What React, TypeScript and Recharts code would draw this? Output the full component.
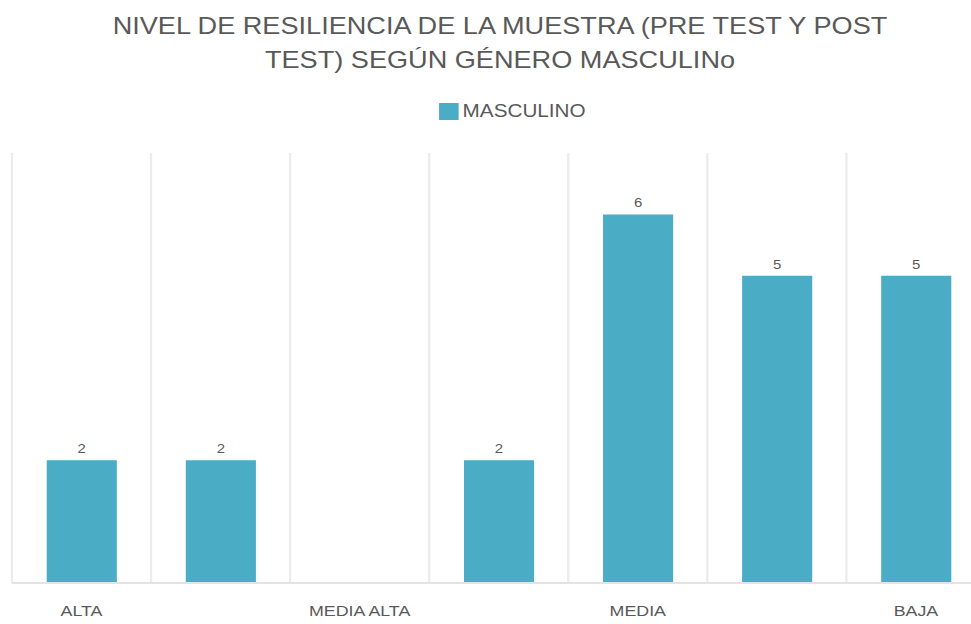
import { BarChart, Bar, XAxis, YAxis, CartesianGrid, Legend, LabelList } from 'recharts'

// niveles (solo se rotulan uno sí, uno no, como en el original)
const categories = ['ALTA', '', 'MEDIA ALTA', '', 'MEDIA', '', 'BAJA']
const masculino = [2, 2, 0, 2, 6, 5, 5]
const yTicks = [0, 1, 2, 3, 4, 5, 6, 7]
const gridTicks = [0, 1, 2, 3, 4, 5, 6, 7]

const data = categories.map((c, i) => ({ nivel: c, masculino: masculino[i], pos: i + 0.5 }))

const TEXT = '#595959'
const FONT = '"Liberation Sans", Arial, sans-serif'
const STRETCH = 1.1494

function LegendBox() {
  return (
    <div style={{ display: 'flex', justifyContent: 'center', alignItems: 'center', height: 17 }}>
      <span style={{ display: 'inline-block', width: 16.5, height: 17, background: '#4BACC6' }} />
      <span style={{ marginLeft: 3.5, fontSize: 18, color: TEXT, fontFamily: FONT, lineHeight: '17px' }}>MASCULINO</span>
    </div>
  )
}

export default function App() {
  return (
    <div style={{ position: 'absolute', left: 0, top: 0, width: 971, height: 624, overflow: 'hidden', background: '#fff' }}>
      <div style={{ position: 'relative', width: 870, height: 624, transform: `scaleX(${STRETCH})`, transformOrigin: '0 0' }}>
        <div style={{ position: 'absolute', top: 9, left: 0, width: 870, textAlign: 'center', fontFamily: FONT, fontSize: 23.6, lineHeight: '34px', color: TEXT, whiteSpace: 'nowrap' }}>
          NIVEL DE RESILIENCIA DE LA MUESTRA (PRE TEST Y POST<br />TEST) SEGÚN GÉNERO MASCULINo
        </div>
        <BarChart width={870} height={624} data={data} barCategoryGap="25%"
          margin={{ top: 153, right: 12.6, left: 10.4, bottom: 0 }} style={{ fontFamily: FONT }}>
          <CartesianGrid xAxisId="grid" horizontal={false} stroke="#ececec" strokeWidth={2} />
          <XAxis xAxisId="grid" dataKey="pos" type="number" domain={[0, 7]} ticks={gridTicks} allowDataOverflow hide />
          <XAxis dataKey="nivel" interval={0} tickLine={false} tickSize={0} tickMargin={22} height={41}
            axisLine={{ stroke: '#e3e3e3', strokeWidth: 2 }} tick={{ fill: TEXT, fontSize: 15.5 }} />
          <YAxis hide domain={[0, 7]} ticks={yTicks} />
          <Legend verticalAlign="middle" align="center" content={<LegendBox />}
            wrapperStyle={{ top: 103, left: 11, width: 870 }} />
          <Bar dataKey="masculino" name="MASCULINO" fill="#4BACC6" isAnimationActive={false}>
            <LabelList dataKey="masculino" position="top" offset={7} fill={TEXT} fontSize={13}
              formatter={(v: any) => (v === 0 ? '' : v)} />
          </Bar>
        </BarChart>
      </div>
    </div>
  )
}
